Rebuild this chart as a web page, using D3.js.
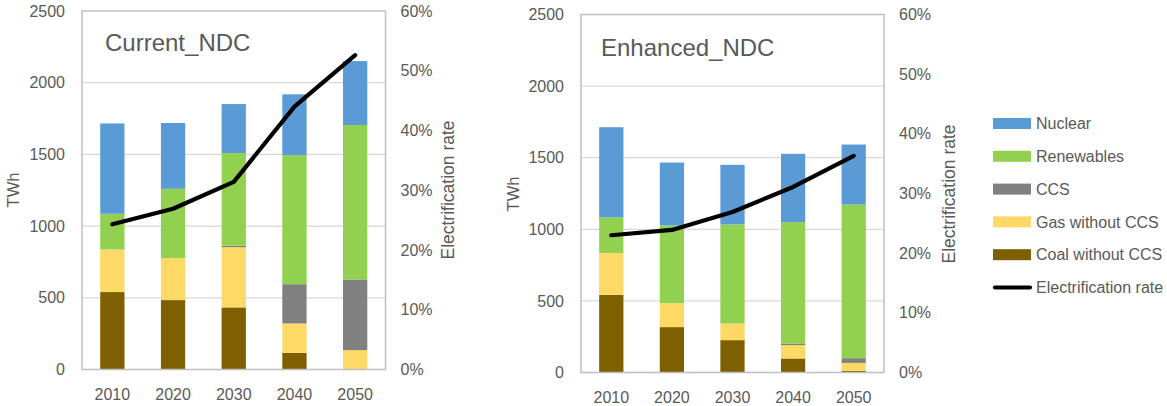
<!DOCTYPE html>
<html>
<head>
<meta charset="utf-8">
<script src="https://cdn.jsdelivr.net/npm/d3@7"></script>
<style>
  html, body { margin: 0; padding: 0; background: #fff; }
  svg text { font-family: "Liberation Sans", Arial, sans-serif; fill: #595959; }
</style>
</head>
<body>
<svg id="chart" width="1167" height="406"></svg>
<script>
// ---------- data ----------
const years = ["2010", "2020", "2030", "2040", "2050"];
const seriesNames = ["Coal without CCS", "Gas without CCS", "CCS", "Renewables", "Nuclear"];
const seriesColors = ["#7F6000", "#FFD966", "#808080", "#92D050", "#5B9BD5"];

// Current_NDC (TWh)
const coalCurrent    = [540, 484, 433, 116, 0];
const gasCurrent     = [297, 293, 420, 205, 135];
const ccsCurrent     = [0, 0, 10, 274, 493];
const renewCurrent   = [249, 483, 646, 900, 1077];
const nuclearCurrent = [630, 459, 342, 424, 446];
const elecCurrent    = [0.243, 0.269, 0.314, 0.440, 0.526];

// Enhanced_NDC (TWh)
const coalEnhanced    = [542, 317, 226, 98, 12];
const gasEnhanced     = [293, 167, 116, 93, 55];
const ccsEnhanced     = [0, 0, 0, 9, 33];
const renewEnhanced   = [248, 543, 692, 850, 1073];
const nuclearEnhanced = [630, 439, 416, 477, 419];
const elecEnhanced    = [0.230, 0.239, 0.269, 0.311, 0.363];

const leftTicks  = [0, 500, 1000, 1500, 2000, 2500];
const rightTicks = [0, 0.1, 0.2, 0.3, 0.4, 0.5, 0.6];

const legendItems = ["Nuclear", "Renewables", "CCS", "Gas without CCS", "Coal without CCS"];
const legendColors = ["#5B9BD5", "#92D050", "#808080", "#FFD966", "#7F6000"];
const lineLabel = "Electrification rate";

// ---------- drawing ----------
const svg = d3.select("#chart");

function drawChart(cfg) {
  const { x0, x1, y0, y1, title, titleX, titleY, series, elec } = cfg;
  const g = svg.append("g");

  const x = d3.scaleBand().domain(years).range([x0, x1]).paddingInner(0.6).paddingOuter(0.3);
  const y = d3.scaleLinear().domain([0, 2500]).range([y1, y0]);
  const y2 = d3.scaleLinear().domain([0, 0.6]).range([y1, y0]);

  // gridlines
  g.selectAll(".grid").data(leftTicks.filter(t => t > 0 && t < 2500)).join("line")
    .attr("x1", x0).attr("x2", x1)
    .attr("y1", d => y(d)).attr("y2", d => y(d))
    .attr("stroke", "#D9D9D9").attr("stroke-width", 1.3);

  // stacked bars
  const rows = years.map((yr, i) => {
    const r = { year: yr };
    seriesNames.forEach((s, k) => r[s] = series[k][i]);
    return r;
  });
  const stacked = d3.stack().keys(seriesNames)(rows);
  g.selectAll(".layer").data(stacked).join("g")
    .attr("fill", (d, i) => seriesColors[i])
    .selectAll("rect").data(d => d).join("rect")
    .attr("x", d => x(d.data.year))
    .attr("width", x.bandwidth())
    .attr("y", d => y(d[1]))
    .attr("height", d => Math.max(0, y(d[0]) - y(d[1])));

  // plot border
  g.append("rect").attr("x", x0).attr("y", y0).attr("width", x1 - x0).attr("height", y1 - y0)
    .attr("fill", "none").attr("stroke", "#BFBFBF").attr("stroke-width", 1.5);

  // line
  const line = d3.line()
    .x((d, i) => x(years[i]) + x.bandwidth() / 2)
    .y(d => y2(d));
  g.append("path").datum(elec).attr("d", line)
    .attr("fill", "none").attr("stroke", "#000").attr("stroke-width", 4.2)
    .attr("stroke-linejoin", "round").attr("stroke-linecap", "round");

  // left axis
  const la = g.append("g").attr("transform", `translate(${x0},0)`)
    .call(d3.axisLeft(y).tickValues(leftTicks).tickSize(0).tickPadding(17).tickFormat(d3.format("d")));
  la.select(".domain").remove();
  la.selectAll("text").style("font-size", "16px").attr("fill", "#595959");

  // right axis
  const ra = g.append("g").attr("transform", `translate(${x1},0)`)
    .call(d3.axisRight(y2).tickValues(rightTicks).tickSize(0).tickPadding(15).tickFormat(d3.format(".0%")));
  ra.select(".domain").remove();
  ra.selectAll("text").style("font-size", "16px").attr("fill", "#595959");

  // bottom axis
  const ba = g.append("g").attr("transform", `translate(0,${y1})`)
    .call(d3.axisBottom(x).tickSize(0).tickPadding(19));
  ba.select(".domain").remove();
  ba.selectAll("text").style("font-size", "16px").attr("fill", "#595959");

  // axis titles
  g.append("text").attr("transform", `translate(${cfg.twhX},${cfg.twhY}) rotate(-90)`)
    .attr("text-anchor", "middle").style("font-size", "16.5px").text("TWh");
  g.append("text").attr("transform", `translate(${cfg.erX},${cfg.erY}) rotate(-90)`)
    .attr("text-anchor", "middle").style("font-size", "17.5px").text(lineLabel);

  // title
  g.append("text").attr("x", titleX).attr("y", titleY).style("font-size", "24px").text(title);
}

drawChart({
  x0: 82, x1: 385.5, y0: 11, y1: 369.5,
  title: "Current_NDC", titleX: 105, titleY: 51,
  series: [coalCurrent, gasCurrent, ccsCurrent, renewCurrent, nuclearCurrent],
  elec: elecCurrent,
  twhX: 19, twhY: 190, erX: 454, erY: 190
});

drawChart({
  x0: 581, x1: 884, y0: 14.5, y1: 372.5,
  title: "Enhanced_NDC", titleX: 601, titleY: 56,
  series: [coalEnhanced, gasEnhanced, ccsEnhanced, renewEnhanced, nuclearEnhanced],
  elec: elecEnhanced,
  twhX: 519, twhY: 194, erX: 955, erY: 194
});

// legend
const lg = svg.append("g");
const legY0 = 123.5, legStep = 32.8;
legendItems.forEach((name, i) => {
  const cy = legY0 + i * legStep;
  lg.append("rect").attr("x", 993).attr("y", cy - 5.5).attr("width", 38).attr("height", 11)
    .attr("fill", legendColors[i]);
  lg.append("text").attr("x", 1036).attr("y", cy).attr("dy", "0.35em")
    .style("font-size", "16px").text(name);
});
{
  const cy = legY0 + legendItems.length * legStep;
  lg.append("line").attr("x1", 995).attr("x2", 1030).attr("y1", cy).attr("y2", cy)
    .attr("stroke", "#000").attr("stroke-width", 4.2).attr("stroke-linecap", "round");
  lg.append("text").attr("x", 1036).attr("y", cy).attr("dy", "0.35em")
    .style("font-size", "16px").text(lineLabel);
}
</script>
</body>
</html>
